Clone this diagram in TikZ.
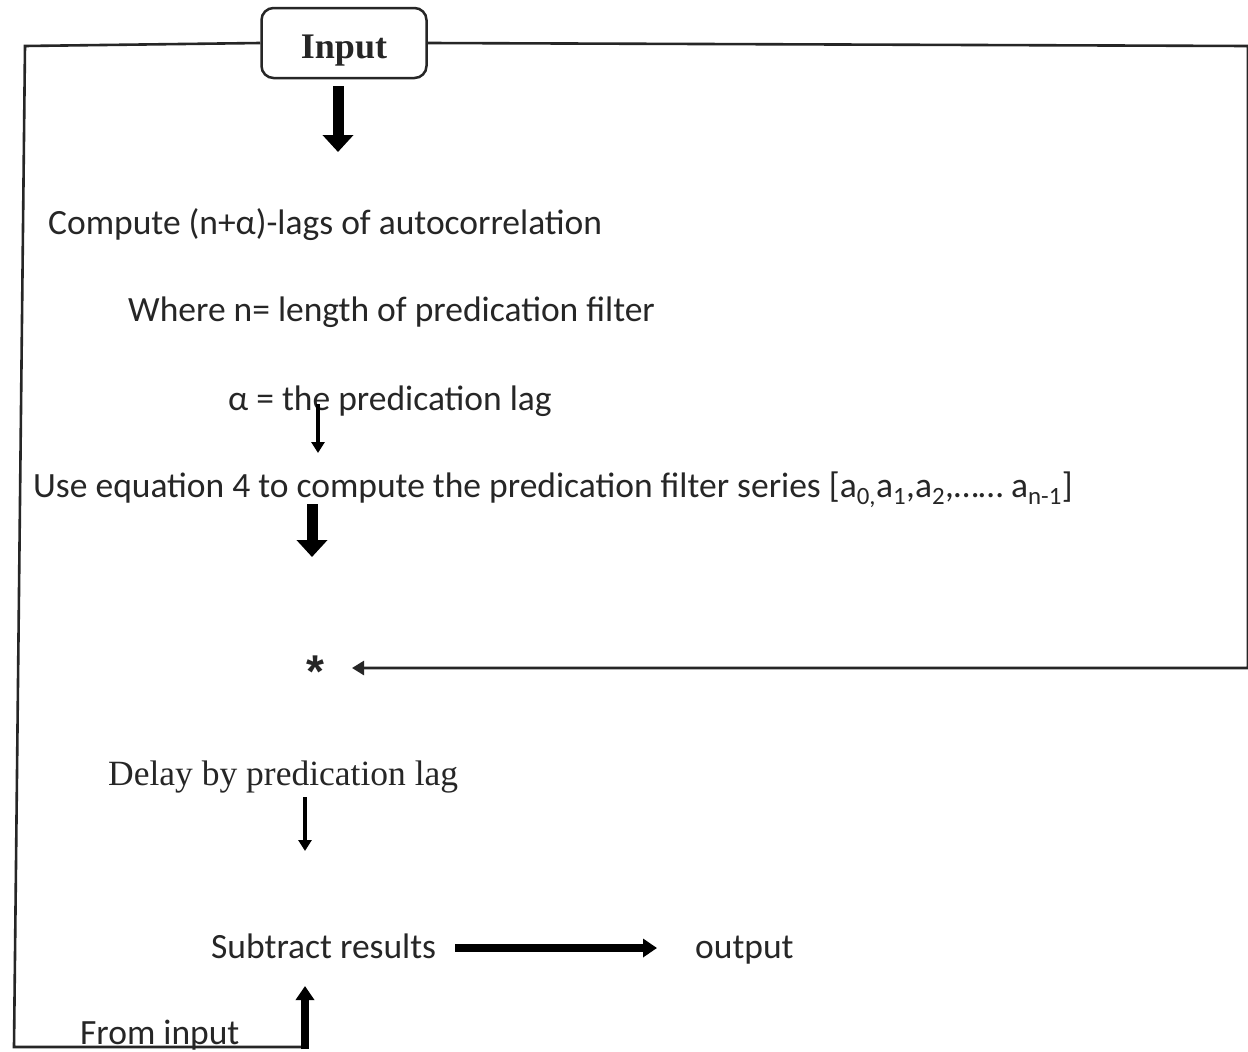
\documentclass[tikz,border=0pt]{standalone}
\usepackage{fontspec}
\setmainfont{Liberation Serif}
\newfontfamily\calfont{Carlito}
\newfontfamily\starfont{Liberation Sans}
\usetikzlibrary{arrows.meta}
\begin{document}
\begin{tikzpicture}[x=1pt,y=-1pt]
\useasboundingbox[fill=white] (0,0) rectangle (1248,1052);
\tikzset{
  frame/.style={line width=2.6pt, draw=black!85},
  txt/.style={font=\calfont\fontsize{35.5}{40}\selectfont, text=black!85, inner sep=0pt, anchor=base west},
  serif/.style={font=\fontsize{35.5}{40}\selectfont, text=black!85, inner sep=0pt, anchor=base west},
  fat/.style={line width=11pt, -{Triangle[width=30pt,length=17pt]}, draw=black},
  mid/.style={line width=8pt, -{Triangle[width=18pt,length=14pt]}, draw=black},
  slim/.style={line width=4.5pt, -{Triangle[width=13pt,length=11pt]}, draw=black},
}
% nodes
\node[draw=black!85, rounded corners=12pt, line width=2.5pt, minimum width=165pt, minimum height=70pt,
      text height=30pt, text depth=0pt,
      font=\bfseries\fontsize{36}{42}\selectfont, text=black!85] (input) at (344,43) {Input};
\node[txt] (compute) at (48,234) {Compute (n+α)-lags of autocorrelation};
\node[txt] (where) at (128,321) {Where n= length of predication filter};
\node[txt] (alpha) at (228,410) {α = the predication lag};
\node[txt] (useeq) at (33,497) {Use equation 4 to compute the predication filter series [a\textsubscript{0,}a\textsubscript{1},a\textsubscript{2},\dots\dots{} a\textsubscript{n-1}]};
\node[txt, anchor=base, font=\starfont\bfseries\fontsize{46}{50}\selectfont] (star) at (315,687) {*};
\node[serif] (delay) at (108,785) {Delay by predication lag};
\node[txt] (subtract) at (211,958) {Subtract results};
\node[txt] (output) at (695,958) {output};
\node[txt] (frominput) at (80,1044) {From input};
% coordinates
\coordinate (tl) at (25,46);
\coordinate (bl) at (14,1047);
\coordinate (bm) at (305,1047);
\coordinate (tr) at (1248,46);
\coordinate (rm) at (1248,668);
\coordinate (sa) at (352,668);
\coordinate (a1s) at (338,86);
\coordinate (a1e) at (338,152);
\coordinate (a2s) at (318,404);
\coordinate (a2e) at (318,453);
\coordinate (a3s) at (312,504);
\coordinate (a3e) at (312,557);
\coordinate (a4s) at (305,797);
\coordinate (a4e) at (305,851);
\coordinate (a5s) at (455,948);
\coordinate (a5e) at (657,948);
\coordinate (a6s) at (305,1049);
\coordinate (a6e) at (305,986);
% frame connectors
\draw[frame] (input.west) -- (tl) -- (bl) -- ([xshift=2pt]bm);
\draw[frame, -{Triangle[width=14pt,length=12pt]}] (input.east) -- (tr) -- (rm) -- (sa);
% arrows
\draw[fat] (a1s) -- (a1e);
\draw[slim] (a2s) -- (a2e);
\draw[fat] (a3s) -- (a3e);
\draw[slim] (a4s) -- (a4e);
\draw[mid] (a5s) -- (a5e);
\draw[mid] (a6s) -- (a6e);
\end{tikzpicture}
\end{document}
